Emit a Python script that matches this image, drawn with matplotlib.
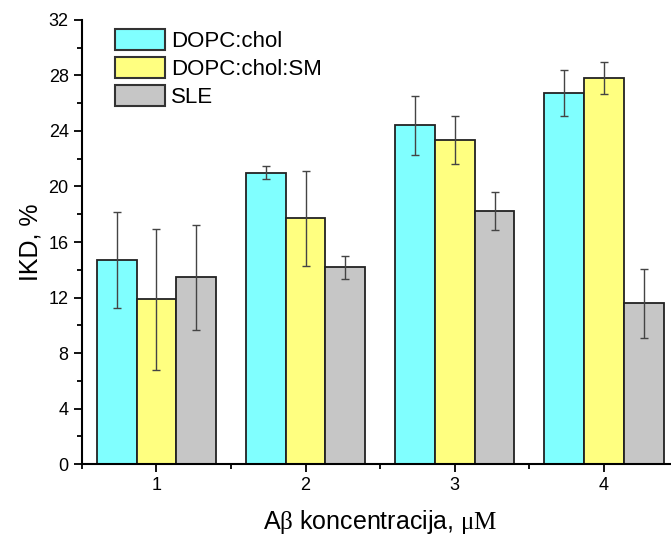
import numpy as np
import matplotlib
matplotlib.use('Agg')
import matplotlib.pyplot as plt
from matplotlib.ticker import MultipleLocator

plt.rcParams['font.family'] = ['Liberation Sans', 'DejaVu Sans']
plt.rcParams['mathtext.fontset'] = 'custom'
plt.rcParams['mathtext.rm'] = 'Liberation Serif'

concentrations = [1, 2, 3, 4]
series_names = ['DOPC:chol', 'DOPC:chol:SM', 'SLE']
dopc_chol = [14.7, 21.0, 24.4, 26.75]
dopc_chol_err = [3.45, 0.45, 2.1, 1.65]
dopc_chol_sm = [11.87, 17.7, 23.35, 27.8]
dopc_chol_sm_err = [5.1, 3.4, 1.7, 1.17]
sle = [13.45, 14.17, 18.23, 11.58]
sle_err = [3.8, 0.85, 1.4, 2.5]

colors = ['#80FFFF', '#FFFF80', '#C6C6C6']
width = 0.267

fig = plt.figure(figsize=(6.71, 5.39), dpi=100)
ax = fig.add_axes([0.122, 0.139, 0.889, 0.824])

x = np.array(concentrations, dtype=float)
values = [dopc_chol, dopc_chol_sm, sle]
errors = [dopc_chol_err, dopc_chol_sm_err, sle_err]
for i, (vals, errs, c, name) in enumerate(zip(values, errors, colors, series_names)):
    pos = x + (i - 1) * width
    ax.bar(pos, vals, width=width, color=c, edgecolor='#222222', linewidth=1.3,
           label=name, zorder=2)
    ax.errorbar(pos, vals, yerr=errs, fmt='none', ecolor='#444444', elinewidth=1.0,
                capsize=3, capthick=1.0, zorder=3)

ax.set_xlim(0.5, 4.5)
ax.set_ylim(0, 32)
ax.set_xticks(concentrations)
ax.xaxis.set_minor_locator(MultipleLocator(0.5))
ax.yaxis.set_major_locator(MultipleLocator(4))
ax.yaxis.set_minor_locator(MultipleLocator(2))
ax.tick_params(which='major', length=6, width=1.3, labelsize=13, direction='out')
ax.tick_params(which='minor', length=3.5, width=1.3, direction='out')

for side in ['top', 'right']:
    ax.spines[side].set_visible(False)
for side in ['left', 'bottom']:
    ax.spines[side].set_linewidth(1.5)

ax.set_ylabel('IKD, %', fontsize=18, labelpad=4)
ax.set_xlabel(r'A$\mathrm{\beta}$ koncentracija, $\mathrm{\mu M}$', fontsize=18, labelpad=10)

leg = ax.legend(loc='upper left', bbox_to_anchor=(0.171, 0.946), bbox_transform=fig.transFigure,
                frameon=False, fontsize=16, handlelength=2.25, handleheight=1.08,
                labelspacing=0.22, handletextpad=0.3, borderpad=0, borderaxespad=0)
for p in leg.get_patches():
    p.set_edgecolor('#333333')
    p.set_linewidth(1.5)

fig.savefig('out.png', dpi=100)
